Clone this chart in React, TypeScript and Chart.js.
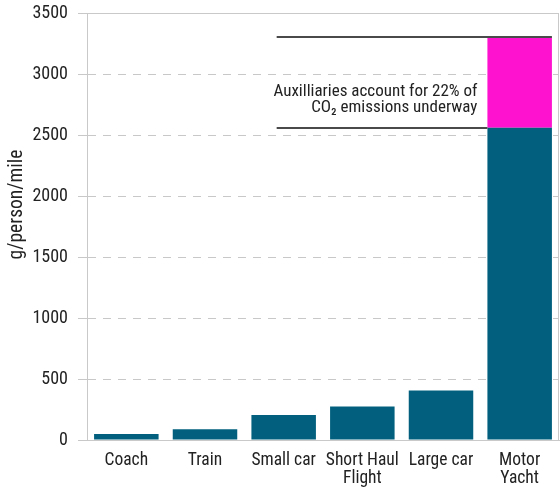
import React, { useEffect, useRef } from "react";
import { Chart, registerables } from "chart.js";

Chart.register(...registerables);

const categories: (string | string[])[] = ["Coach", "Train", "Small car", ["Short Haul", "Flight"], "Large car", ["Motor", "Yacht"]];
const baseValues = [50, 88, 205, 275, 405, 2560];
const auxValues = [0, 0, 0, 0, 0, 740];
const yTicks = [0, 500, 1000, 1500, 2000, 2500, 3000, 3500];
const yTitle = "g/person/mile";
const noteLines = ["Auxilliaries account for 22% of", "CO₂ emissions underway"];

const FONT = "'Roboto Condensed', 'Liberation Sans', sans-serif";
const TEAL = "#02607e";
const PINK = "#ff12cf";

const framePlugin = {
  id: "frame",
  afterDatasetsDraw(chart: any) {
    const { ctx, chartArea: a, scales } = chart;
    const y = scales.y;
    const x = scales.x;
    ctx.save();
    ctx.strokeStyle = "#c9c9c9";
    ctx.lineWidth = 1;
    ctx.strokeRect(a.left + 0.5, a.top + 0.5, a.right - a.left - 1, a.bottom - a.top);
    const last = baseValues.length - 1;
    const meta = chart.getDatasetMeta(0);
    const bar = meta.data[last];
    const barLeft = bar.x - bar.width / 2;
    const barRight = bar.x + bar.width / 2;
    const total = baseValues[last] + auxValues[last];
    const startX = x.getPixelForValue(2) - 7;
    const yTop = Math.round(y.getPixelForValue(total));
    const yBase = Math.round(y.getPixelForValue(baseValues[last]));
    ctx.strokeStyle = "#4a4a4a";
    ctx.lineWidth = 2;
    ctx.beginPath();
    ctx.moveTo(startX, yTop);
    ctx.lineTo(barRight, yTop);
    ctx.moveTo(startX, yBase);
    ctx.lineTo(barLeft, yBase);
    ctx.stroke();
    ctx.fillStyle = "#222";
    ctx.font = `17px ${FONT}`;
    ctx.textAlign = "right";
    ctx.textBaseline = "middle";
    const tx = barLeft - 10;
    const mid = (yTop + yBase) / 2;
    ctx.fillText(noteLines[0], tx, mid + 9);
    ctx.fillText(noteLines[1], tx, mid + 25.5);
    // y axis title
    ctx.translate(17, y.getPixelForValue(1930));
    ctx.rotate(-Math.PI / 2);
    ctx.textAlign = "center";
    ctx.font = `19.5px ${FONT}`;
    ctx.fillText(yTitle, 0, 0);
    ctx.restore();
  },
};

export default function App() {
  const ref = useRef<HTMLCanvasElement | null>(null);
  useEffect(() => {
    const chart = new Chart(ref.current as HTMLCanvasElement, {
      type: "bar",
      data: {
        labels: categories as any,
        datasets: [
          { label: "Propulsion", data: baseValues, backgroundColor: TEAL, barPercentage: 0.82, categoryPercentage: 1 },
          { label: "Auxiliaries", data: auxValues, backgroundColor: PINK, barPercentage: 0.82, categoryPercentage: 1 },
        ],
      },
      options: {
        animation: false,
        responsive: false,
        maintainAspectRatio: false,
        layout: { padding: { top: 13, right: 1, left: 0, bottom: 0 } },
        plugins: { legend: { display: false }, tooltip: { enabled: false } },
        scales: {
          x: {
            stacked: true,
            grid: { display: false, drawTicks: false },
            border: { display: true, color: "#c9c9c9" },
            ticks: { color: "#222", font: { family: FONT, size: 17.5, lineHeight: 1.03 }, padding: 12, maxRotation: 0, autoSkip: false },
            afterFit: (s: any) => { s.height = 50; s.paddingLeft = 0; s.paddingRight = 0; },
          },
          y: {
            stacked: true,
            min: 0,
            max: 3500,
            afterBuildTicks: (s: any) => { s.ticks = yTicks.map((v) => ({ value: v })); },
            grid: { color: "#c8c8c8", tickLength: 9, tickColor: "#c8c8c8" },
            border: { display: true, color: "#c9c9c9", dash: [8, 7] },
            ticks: { color: "#222", font: { family: FONT, size: 18 }, padding: 10, callback: (v: any) => String(v) },
            afterFit: (s: any) => { s.width = 87; s.paddingTop = 0; s.paddingBottom = 0; },
          },
        },
      },
      plugins: [framePlugin],
    });
    return () => chart.destroy();
  }, []);
  return (
    <div style={{ position: "fixed", left: 0, top: 0, width: 560, height: 490, background: "#fff" }}>
      <canvas ref={ref} width={560} height={490} style={{ display: "block" }} />
    </div>
  );
}
